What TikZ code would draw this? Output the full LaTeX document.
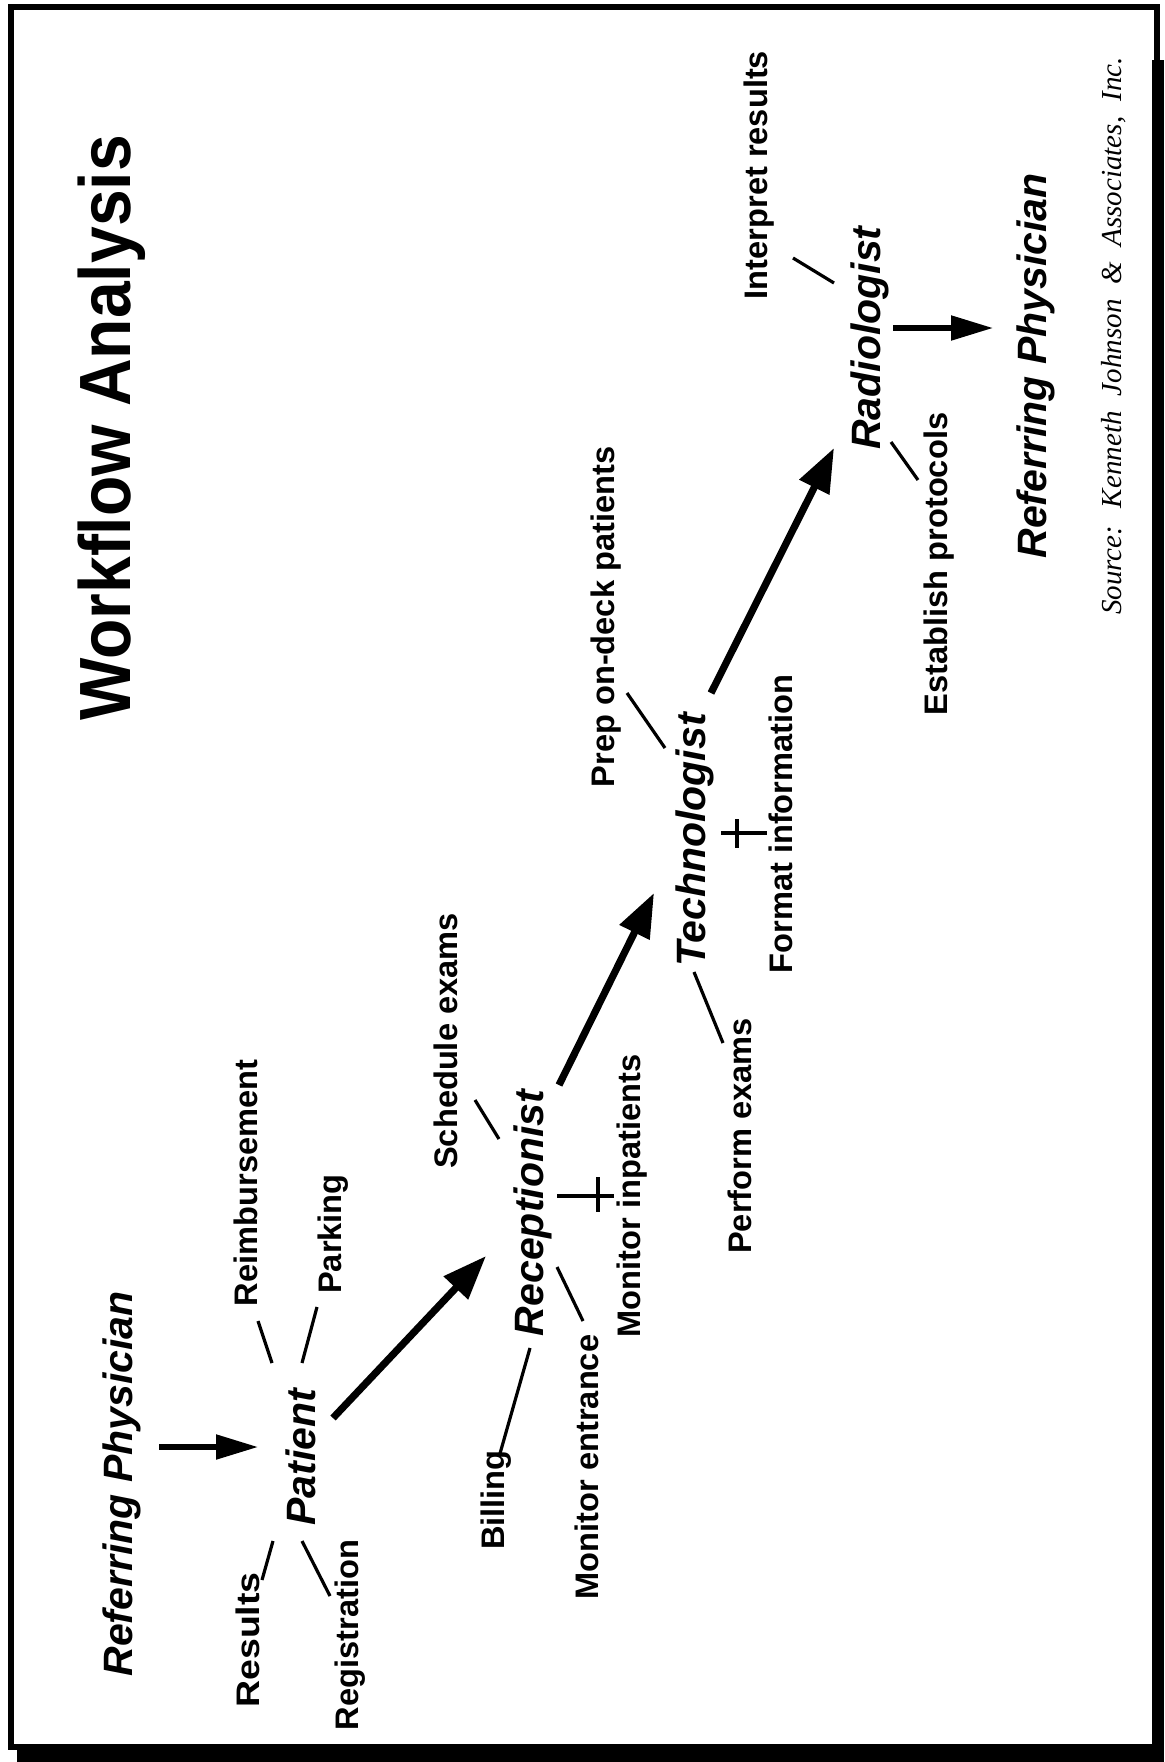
\documentclass[tikz,border=0pt]{standalone}
\usepackage{fontspec}
\setmainfont{Liberation Sans}
\newfontfamily\srcfont{Liberation Serif}
\usetikzlibrary{arrows.meta}
\begin{document}
\begin{tikzpicture}[x=0.5pt,y=-0.5pt,
  titletext/.style={rotate=90,anchor=base,inner sep=0pt,font=\fontsize{33}{33}\selectfont\bfseries},
  role/.style={rotate=90,anchor=base,inner sep=0pt,font=\fontsize{20.5}{20.5}\selectfont\bfseries\itshape},
  lab/.style={rotate=90,anchor=base,inner sep=0pt,font=\fontsize{16.3}{16.3}\selectfont\bfseries},
  srctext/.style={rotate=90,anchor=base,inner sep=0pt,font=\fontsize{14.5}{14.5}\selectfont\srcfont\itshape},
  tick/.style={line width=1.6pt},
  flow/.style={line width=3.6pt,-{Triangle[length=22pt,width=16pt]}},
  hflow/.style={line width=2.6pt,-{Triangle[length=21pt,width=12pt]}},
]
\useasboundingbox (0,0) rectangle (1164,1762);
% frame and shadow
\fill[black] (17,1746) rectangle (1164,1762);
\fill[black] (1152,60) rectangle (1164,1762);
\draw[line width=3pt] (11,6.5) rectangle (1157,1747);

% title
\node[titletext] (title) at (130,428) {\scalebox{1}[1.1]{Workflow Analysis}};

% patient group
\node[role] (rp1) at (132,1484) {Referring Physician};
\node[role] (pat) at (315,1457) {Patient};
\node[lab] (res) at (259,1640) {\scalebox{1.15}[1]{Results}};
\node[lab] (reg) at (358,1635) {Registration};
\node[lab] (reim) at (257,1183) {Reimbursement};
\node[lab] (park) at (341,1234) {Parking};

% receptionist group
\node[role] (rec) at (543,1213) {Receptionist};
\node[lab] (sched) at (457,1041) {Schedule exams};
\node[lab] (bill) at (504,1500) {Billing};
\node[lab] (monent) at (598,1467) {Monitor entrance};
\node[lab] (monin) at (640,1196) {Monitor inpatients};

% technologist group
\node[role] (tech) at (705,840) {Technologist};
\node[lab] (prep) at (614,617) {Prep on-deck patients};
\node[lab] (fmt) at (792,824) {Format information};
\node[lab] (perf) at (751,1136) {Perform exams};

% radiologist group
\node[role] (rad) at (880,338) {Radiologist};
\node[lab] (interp) at (767,175) {Interpret results};
\node[lab] (estab) at (947,564) {Establish protocols};
\node[role] (rp2) at (1046,366) {Referring Physician};

\node[srctext] (src) at (1121,336) {Source:\hspace{4pt} Kenneth\hspace{4pt} Johnson\hspace{4pt} \&\hspace{4pt} Associates,\hspace{4pt} Inc.};

% connector end points
\coordinate (a0s) at (159,1447); \coordinate (a0e) at (258,1447);
\coordinate (a1s) at (333,1418); \coordinate (a1e) at (486,1256);
\coordinate (a2s) at (559,1085); \coordinate (a2e) at (654,893);
\coordinate (a3s) at (711,693);  \coordinate (a3e) at (834,448);
\coordinate (a4s) at (893,328);  \coordinate (a4e) at (993,328);

\coordinate (reimA) at (258,1321); \coordinate (reimB) at (272,1363);
\coordinate (parkA) at (317,1307); \coordinate (parkB) at (302,1363);
\coordinate (resA) at (262,1580);  \coordinate (resB) at (273,1541);
\coordinate (regA) at (302,1541);  \coordinate (regB) at (330,1596);

\coordinate (schA) at (475,1100);  \coordinate (schB) at (499,1139);
\coordinate (entA) at (557,1267);  \coordinate (entB) at (583,1321);
\coordinate (bilA) at (530,1348);  \coordinate (bilB) at (499,1457);
\coordinate (minA) at (557,1196);  \coordinate (minB) at (614,1196);
\coordinate (minC) at (598,1177);  \coordinate (minD) at (598,1212);

\coordinate (prpA) at (627,693);   \coordinate (prpB) at (665,748);
\coordinate (prfA) at (694,972);   \coordinate (prfB) at (723,1043);
\coordinate (fmtA) at (721,833);   \coordinate (fmtB) at (767,833);
\coordinate (fmtC) at (737,819);   \coordinate (fmtD) at (737,848);

\coordinate (intA) at (793,258);   \coordinate (intB) at (834,283);
\coordinate (estA) at (891,442);   \coordinate (estB) at (918,480);

% flow arrows
\draw[hflow] (a0s) -- (a0e);
\draw[flow] (a1s) -- (a1e);
\draw[flow] (a2s) -- (a2e);
\draw[flow] (a3s) -- (a3e);
\draw[hflow] (a4s) -- (a4e);

% ticks
\draw[tick] (reimA) -- (reimB);
\draw[tick] (parkA) -- (parkB);
\draw[tick] (resA) -- (resB);
\draw[tick] (regA) -- (regB);
\draw[tick] (schA) -- (schB);
\draw[tick] (entA) -- (entB);
\draw[tick] (bilA) -- (bilB);
\draw[tick] (minA) -- (minB);
\draw[tick] (minC) -- (minD);
\draw[tick] (prpA) -- (prpB);
\draw[tick] (prfA) -- (prfB);
\draw[tick] (fmtA) -- (fmtB);
\draw[tick] (fmtC) -- (fmtD);
\draw[tick] (intA) -- (intB);
\draw[tick] (estA) -- (estB);
\end{tikzpicture}
\end{document}
